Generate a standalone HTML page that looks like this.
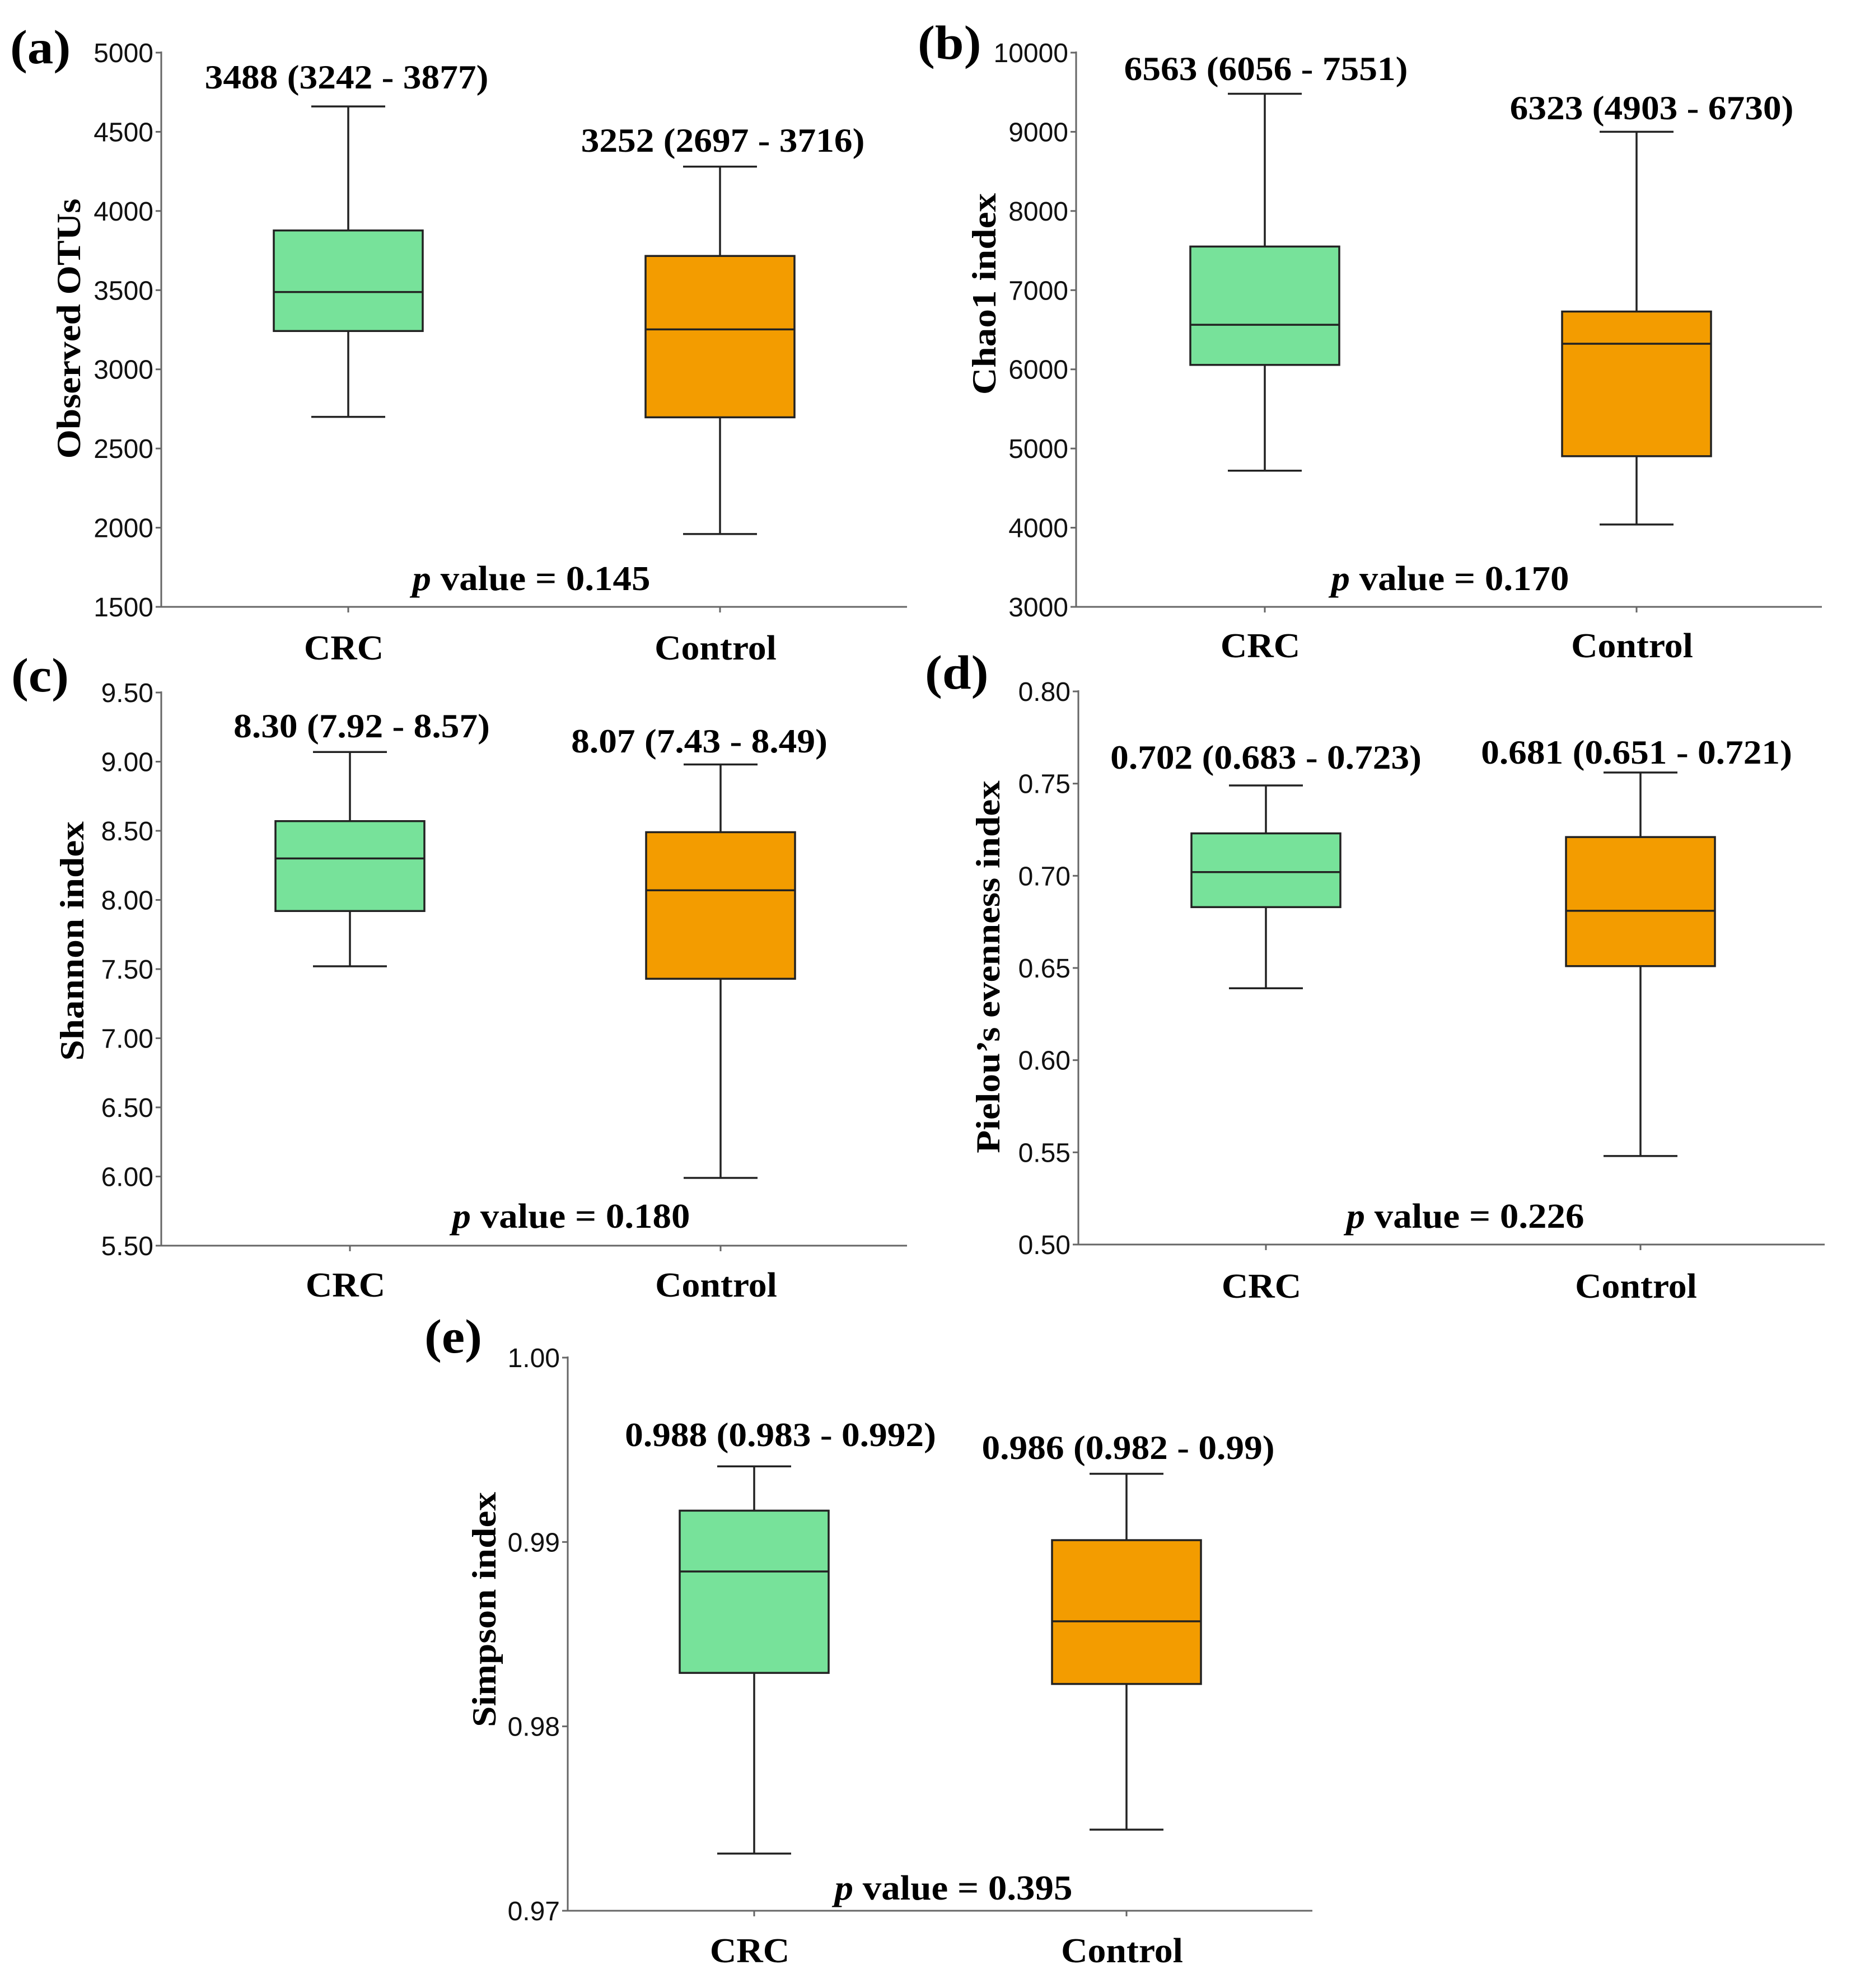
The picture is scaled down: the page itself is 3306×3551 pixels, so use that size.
<!DOCTYPE html>
<html><head><meta charset="utf-8"><style>
html,body{margin:0;padding:0;background:#fff;}
svg{display:block;}
.tick{font-family:"Liberation Sans",sans-serif;font-size:48px;fill:#111;}
.ann{font-family:"Liberation Serif",serif;font-weight:bold;font-size:60px;fill:#000;}
.ttl{font-family:"Liberation Serif",serif;font-weight:bold;font-size:60px;fill:#000;}
.xl{font-family:"Liberation Serif",serif;font-weight:bold;font-size:62px;fill:#000;}
.let{font-family:"Liberation Serif",serif;font-weight:bold;font-size:86px;fill:#000;}
.pv{font-family:"Liberation Serif",serif;font-weight:bold;font-size:62px;fill:#000;}
</style></head><body>
<svg id="fig" width="3306" height="3551" viewBox="0 0 3306 3551" xmlns="http://www.w3.org/2000/svg"></svg>
<script>
// Data: [lower whisker, Q1, median, Q3, upper whisker]
const groups = ["CRC", "Control"];
const otusCRC = [2700, 3242, 3488, 3877, 4660];
const otusControl = [1960, 2697, 3252, 3716, 4280];
const otusTicks = [1500, 2000, 2500, 3000, 3500, 4000, 4500, 5000];
const otusLabels = ["3488 (3242 - 3877)", "3252 (2697 - 3716)"];
const chaoCRC = [4720, 6056, 6563, 7551, 9480];
const chaoControl = [4040, 4903, 6323, 6730, 9000];
const chaoTicks = [3000, 4000, 5000, 6000, 7000, 8000, 9000, 10000];
const chaoLabels = ["6563 (6056 - 7551)", "6323 (4903 - 6730)"];
const shanCRC = [7.52, 7.92, 8.30, 8.57, 9.07];
const shanControl = [5.99, 7.43, 8.07, 8.49, 8.98];
const shanTicks = [5.5, 6.0, 6.5, 7.0, 7.5, 8.0, 8.5, 9.0, 9.5];
const shanLabels = ["8.30 (7.92 - 8.57)", "8.07 (7.43 - 8.49)"];
const pielCRC = [0.639, 0.683, 0.702, 0.723, 0.749];
const pielControl = [0.548, 0.651, 0.681, 0.721, 0.756];
const pielTicks = [0.50, 0.55, 0.60, 0.65, 0.70, 0.75, 0.80];
const pielLabels = ["0.702 (0.683 - 0.723)", "0.681 (0.651 - 0.721)"];
const simpCRC = [0.9731, 0.9829, 0.9884, 0.9917, 0.9941];
const simpControl = [0.9744, 0.9823, 0.9857, 0.9901, 0.9937];
const simpTicks = [0.97, 0.98, 0.99, 1.00];
const simpLabels = ["0.988 (0.983 - 0.992)", "0.986 (0.982 - 0.99)"];
const pValues = ["0.145", "0.170", "0.180", "0.226", "0.395"];

const NS = "http://www.w3.org/2000/svg";
const svg = document.getElementById("fig");
function mk(tag, attrs, parent, text) {
  const e = document.createElementNS(NS, tag);
  for (const k in attrs) e.setAttribute(k, attrs[k]);
  if (text !== undefined) e.textContent = text;
  (parent || svg).appendChild(e);
  return e;
}
function stext(x, y, sx, cls, anchor, parent, txt) {
  return mk("text", {x:0, y:0, class:cls, "text-anchor":anchor, transform:`translate(${x},${y}) scale(${sx},1)`}, parent, txt);
}
const colors = ["#77e29a", "#f39c00"];

const panels = [
  {id:"a", title:"Observed OTUs", data:[otusCRC, otusControl], ticks:otusTicks, dec:0, labels:otusLabels, p:pValues[0],
   x0:288, x1:1620, yTop:94, yBot:1084, cx:[622,1286], annX:[619,1291], annY:[158,271], letX:18, letY:113, ttlX:121, ttlY:587, pX:949, pY:1054, xlY:1178},
  {id:"b", title:"Chao1 index", data:[chaoCRC, chaoControl], ticks:chaoTicks, dec:0, labels:chaoLabels, p:pValues[1],
   x0:1922, x1:3254, yTop:94, yBot:1084, cx:[2259,2923], annX:[2261,2950], annY:[143,213], letX:1639, letY:105, ttlX:1756, ttlY:525, pX:2590, pY:1054, xlY:1174},
  {id:"c", title:"Shannon index", data:[shanCRC, shanControl], ticks:shanTicks, dec:2, labels:shanLabels, p:pValues[2],
   x0:288, x1:1620, yTop:1237, yBot:2225, cx:[625,1287], annX:[646,1249], annY:[1317,1344], letX:20, letY:1235, ttlX:127, ttlY:1681, pX:1020, pY:2193, xlY:2316},
  {id:"d", title:"Pielou\u2019s evenness index", data:[pielCRC, pielControl], ticks:pielTicks, dec:2, labels:pielLabels, p:pValues[3],
   x0:1926, x1:3259, yTop:1235, yBot:2223, cx:[2261,2930], annX:[2261,2923], annY:[1373,1364], letX:1652, letY:1230, ttlX:1763, ttlY:1727, pX:2617, pY:2193, xlY:2318},
  {id:"e", title:"Simpson index", data:[simpCRC, simpControl], ticks:simpTicks, dec:2, labels:simpLabels, p:pValues[4],
   x0:1014, x1:2344, yTop:2425, yBot:3413, cx:[1347,2012], annX:[1394,2015], annY:[2583,2606], letX:758, letY:2416, ttlX:863, ttlY:2875, pX:1703, pY:3393, xlY:3505}
];

panels.forEach(P => {
  const g = mk("g", {});
  
  
  const tmin = P.ticks[0], tmax = P.ticks[P.ticks.length - 1];
  const y = v => P.yBot - (v - tmin) / (tmax - tmin) * (P.yBot - P.yTop);

  const letter = stext(P.letX, P.letY, 1.08, "let", "start", g, "(" + P.id + ")");
  
  

  const ya = mk("line", {x1:P.x0, y1:P.yTop - 2, x2:P.x0, y2:P.yBot, stroke:"#666", "stroke-width":3}, g);
  
  
  const xa = mk("line", {x1:P.x0, y1:P.yBot, x2:P.x1, y2:P.yBot, stroke:"#666", "stroke-width":3}, g);
  
  

  P.ticks.forEach(t => {
    const yy = y(t);
    const tk = mk("line", {x1:P.x0 - 10, y1:yy, x2:P.x0, y2:yy, stroke:"#666", "stroke-width":3}, g);
    
    
    const tl = mk("text", {x:P.x0 - 14, y:yy + 17, class:"tick", "text-anchor":"end"}, g, t.toFixed(P.dec));
    
    
  });

  const tt = mk("text", {x:0, y:0, class:"ttl", "text-anchor":"middle", transform:`translate(${P.ttlX + 22},${P.ttlY}) rotate(-90) scale(1.12,1)`}, g, P.title);
  
  

  const hw = 133, cap = 66;
  P.data.forEach((d, i) => {
    const cx = P.cx[i];
    const bg = mk("g", {}, g);
    
    
    const st = {stroke:"#222", "stroke-width":3.5};
    mk("line", Object.assign({x1:cx, y1:y(d[4]), x2:cx, y2:y(d[3])}, st), bg);
    mk("line", Object.assign({x1:cx, y1:y(d[1]), x2:cx, y2:y(d[0])}, st), bg);
    mk("line", Object.assign({x1:cx - cap, y1:y(d[4]), x2:cx + cap, y2:y(d[4])}, st), bg);
    mk("line", Object.assign({x1:cx - cap, y1:y(d[0]), x2:cx + cap, y2:y(d[0])}, st), bg);
    mk("rect", Object.assign({x:cx - hw, y:y(d[3]), width:2 * hw, height:y(d[1]) - y(d[3]), fill:colors[i]}, st), bg);
    mk("line", Object.assign({x1:cx - hw, y1:y(d[2]), x2:cx + hw, y2:y(d[2])}, st), bg);
    const xt = mk("line", {x1:cx, y1:P.yBot, x2:cx, y2:P.yBot + 10, stroke:"#666", "stroke-width":3}, g);
    
    
    const xl = stext(cx - 8, P.xlY, 1.06, "xl", "middle", g, groups[i]);
    
    
    const an = stext(P.annX[i], P.annY[i], 1.09, "ann", "middle", g, P.labels[i]);
    
    
  });

  const pv = stext(P.pX, P.pY, 1.08, "pv", "middle", g);
  
  
  mk("tspan", {"font-style":"italic"}, pv, "p");
  mk("tspan", {}, pv, " value = " + P.p);
});
</script>
</body></html>
